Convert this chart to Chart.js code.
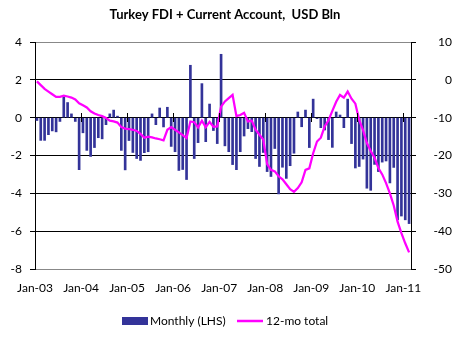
<!DOCTYPE html>
<html>
<head>
<meta charset="utf-8">
<title>Turkey FDI + Current Account</title>
<script src="https://cdn.jsdelivr.net/npm/chart.js@4.4.0/dist/chart.umd.min.js"></script>
<style>
  html, body { margin: 0; padding: 0; background: #fff; }
</style>
</head>
<body>
<canvas id="myChart" width="452" height="341"></canvas>
<script>
var chartTitle = 'Turkey FDI + Current Account,  USD Bln';
var monthNames = ['Jan', 'Feb', 'Mar', 'Apr', 'May', 'Jun', 'Jul', 'Aug', 'Sep', 'Oct', 'Nov', 'Dec'];
var years = ['03', '04', '05', '06', '07', '08', '09', '10', '11'];

// monthly FDI + current account, USD bn (left axis), Jan-03 .. Feb-11
var monthly = [
  -0.15, -1.2, -1.2, -0.9, -0.7, -0.75, -0.2, 1.1, 0.8, 0.2, -0.2, -2.75,
  -0.8, -1.73, -2.05, -1.58, -1.06, -1.12, -0.37, 0.2, 0.4, 0.08, -1.73, -2.76,
  -1.21, -1.84, -2.16, -2.26, -1.85, -1.8, 0.2, -0.37, 0.51, -0.49, 0.55, -1.52,
  -1.8, -2.79, -2.74, -3.27, 2.77, -2.16, -1.32, 1.8, -1.27, 0.72, -0.68, -1.37,
  3.35, -1.49, -1.8, -2.48, -2.75, -1.8, -0.97, -0.58, -0.74, -2.16, -2.58, -1.84,
  -2.85, -3.11, -1.63, -4.03, -2.62, -3.21, -2.54, -1.88, 0.3, -0.48, 0.4, -1.58,
  0.98, -0.05, -0.53, -0.65, -1.16, -1.57, 0.3, 0.14, -0.53, 0.98, -1.37, -2.66,
  -2.58, -2.19, -3.73, -3.84, -2.47, -2.85, -2.35, -2.29, -3.45, -2.63, -5.4, -5.2,
  -5.4, -5.6
];

// rolling 12-month total, USD bn (right axis)
var total12 = [
  -0.4, -1.4, -2.4, -3.1, -3.8, -4.5, -4.5, -4.2, -4.4, -4.7, -5.2, -6.2,
  -6.7, -7.3, -8.3, -8.9, -9.3, -9.6, -10.1, -10.8, -11.0, -11.3, -12.5, -12.9,
  -13.0, -13.2, -13.5, -14.3, -15.3, -15.0, -15.2, -15.5, -15.7, -16.0, -13.2, -12.5,
  -13.2, -13.9, -14.6, -15.4, -11.0, -11.2, -12.6, -10.8, -12.5, -11.1, -12.4, -12.3,
  -7.1, -5.7, -4.85, -4.0, -9.6, -9.3, -8.7, -11.0, -10.8, -13.2, -14.5, -15.8,
  -22.3, -23.8, -24.2, -25.5, -26.3, -27.6, -28.9, -29.6, -28.6, -27.1, -23.8, -23.4,
  -19.4, -16.3, -15.3, -12.3, -10.7, -8.2, -5.8, -4.0, -4.7, -3.1, -5.0, -6.3,
  -10.6, -13.3, -16.7, -18.8, -20.6, -23.3, -25.0, -27.3, -30.0, -33.2, -37.5, -40.5,
  -43.2, -45.6
];

var months = [];
for (var y = 0; y < years.length; y++) {
  for (var m = 0; m < 12; m++) {
    months.push(monthNames[m] + '-' + years[y]);
  }
}
months = months.slice(0, monthly.length);

var barColor = '#333399';
var lineColor = '#ff00ff';

Chart.defaults.font.family = 'Lato';
Chart.defaults.font.size = 12;
Chart.defaults.color = '#000';

// title, legend and the year ticks on the zero line
var decor = {
  id: 'decor',
  afterDraw: function(chart) {
    var ctx = chart.ctx;
    var xs = chart.scales.x, ys = chart.scales.y;
    var y0 = Math.round(ys.getPixelForValue(0));
    var half = (xs.getPixelForValue(1) - xs.getPixelForValue(0)) / 2;
    ctx.save();
    ctx.strokeStyle = '#000';
    ctx.lineWidth = 1;
    for (var i = 12; i < months.length; i += 12) {
      var x = Math.round(xs.getPixelForValue(i) - half) + 0.5;
      ctx.beginPath();
      ctx.moveTo(x, y0 - 5);
      ctx.lineTo(x, y0 + 4);
      ctx.stroke();
    }

    ctx.fillStyle = '#000';
    ctx.font = 'bold 13px Lato';
    ctx.textAlign = 'center';
    ctx.textBaseline = 'middle';
    ctx.fillText(chartTitle, 225, 15);

    var ds = chart.data.datasets;
    ctx.font = '12px Lato';
    ctx.textAlign = 'left';
    ctx.fillStyle = ds[0].backgroundColor;
    ctx.fillRect(122, 317, 26, 8);
    ctx.fillStyle = '#000';
    ctx.fillText(ds[0].label, 150, 321);
    ctx.strokeStyle = ds[1].borderColor;
    ctx.lineWidth = 2.5;
    ctx.beginPath();
    ctx.moveTo(237, 321);
    ctx.lineTo(263, 321);
    ctx.stroke();
    ctx.fillText(ds[1].label, 266, 321);
    ctx.restore();
  }
};

var ctx1 = document.getElementById('myChart').getContext('2d');
var myChart = new Chart(ctx1, {
  type: 'bar',
  data: {
    labels: months,
    datasets: [
      {
        type: 'bar',
        label: 'Monthly (LHS)',
        data: monthly,
        backgroundColor: barColor,
        borderWidth: 0,
        barThickness: 2,
        yAxisID: 'y',
        order: 1
      },
      {
        type: 'line',
        label: '12-mo total',
        data: total12,
        borderColor: lineColor,
        backgroundColor: lineColor,
        borderWidth: 2.25,
        pointRadius: 0,
        tension: 0,
        yAxisID: 'y1',
        order: 0
      }
    ]
  },
  options: {
    responsive: false,
    animation: false,
    devicePixelRatio: 1,
    layout: { padding: { top: 42, left: 0, right: 0, bottom: 0 } },
    plugins: {
      legend: { display: false },
      title: { display: false },
      tooltip: { enabled: false }
    },
    scales: {
      x: {
        offset: true,
        grid: { display: false, drawTicks: false },
        border: { display: false },
        ticks: {
          autoSkip: false,
          maxRotation: 0,
          minRotation: 0,
          padding: 12,
          labelOffset: -1.9,
          callback: function(value, index) {
            return index % 12 === 0 ? months[index] : '';
          }
        },
        afterFit: function(s) { s.height = 72; }
      },
      y: {
        position: 'left',
        min: -8,
        max: 4,
        ticks: { stepSize: 2, padding: 8 },
        grid: {
          color: function(c) {
            return (c.tick.value === 4 || c.tick.value === -8) ? '#888' : '#000';
          },
          tickColor: '#000',
          tickLength: 5
        },
        border: { color: '#000' },
        afterFit: function(s) { s.width = 35; }
      },
      y1: {
        position: 'right',
        min: -50,
        max: 10,
        ticks: { stepSize: 10, padding: 3, crossAlign: 'far' },
        grid: { drawOnChartArea: false, tickColor: '#000', tickLength: 5 },
        border: { color: '#000' },
        afterFit: function(s) { s.width = 41; }
      }
    }
  },
  plugins: [decor]
});
</script>
</body>
</html>
